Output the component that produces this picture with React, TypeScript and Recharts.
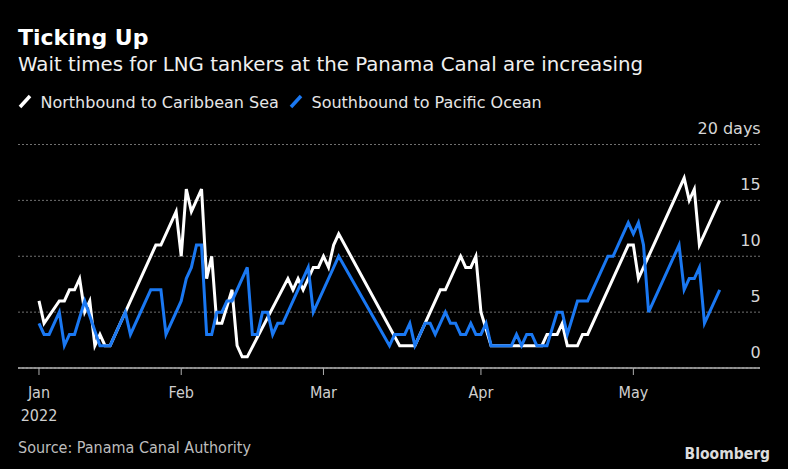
import React from 'react';
import { LineChart, Line, XAxis, YAxis, CartesianGrid } from 'recharts';

// days counted from Jan 1 2022 (Jan 1 = 0)
const northDays = [3, 4, 7, 8, 9, 10, 11, 12, 13, 14, 15, 16, 17, 20, 26, 27, 30, 31, 32, 33, 35, 36, 37, 38, 39, 41, 42, 43, 44, 52, 53, 54, 55, 57, 58, 59, 60, 61, 62, 74, 77, 82, 83, 86, 87, 88, 89, 90, 92, 102, 103, 105, 106, 107, 109, 110, 111, 119, 120, 121, 122, 130, 131, 132, 133, 137];
const northWait = [6, 4, 6, 6, 7, 7, 8, 5, 6, 2, 3, 2, 2, 5, 11, 11, 14, 10, 16, 14, 16, 8, 10, 4, 4, 7, 2, 1, 1, 8, 7, 8, 7, 9, 9, 10, 9, 11, 12, 2, 2, 7, 7, 10, 9, 9, 10, 5, 2, 2, 3, 3, 4, 2, 2, 3, 3, 11, 11, 8, 9, 17, 15, 16, 11, 15];

const southDays = [3, 4, 5, 7, 8, 9, 10, 12, 15, 17, 20, 21, 25, 27, 28, 31, 32, 33, 34, 35, 36, 37, 38, 39, 40, 41, 44, 45, 46, 47, 48, 49, 50, 51, 56, 57, 62, 72, 73, 75, 76, 77, 79, 80, 81, 83, 84, 85, 86, 87, 88, 89, 90, 91, 92, 96, 97, 98, 99, 100, 101, 103, 105, 106, 107, 109, 111, 115, 116, 119, 120, 121, 122, 123, 129, 130, 131, 132, 133, 134, 137];
const southWait = [4, 3, 3, 5, 2, 3, 3, 6, 2, 2, 5, 3, 7, 7, 3, 6, 8, 9, 11, 11, 3, 3, 5, 5, 6, 6, 9, 3, 3, 5, 5, 3, 4, 4, 9, 5, 10, 2, 3, 3, 4, 2, 4, 4, 3, 5, 4, 4, 3, 3, 4, 3, 3, 4, 2, 2, 3, 2, 3, 3, 2, 2, 5, 5, 3, 6, 6, 10, 10, 13, 12, 13, 11, 5, 11, 7, 8, 8, 9, 4, 7];

const monthTicks = [3, 31, 59, 90, 120];
const monthLabels = ['Jan', 'Feb', 'Mar', 'Apr', 'May'];
const yearLabel = '2022';
const valueTicks = [0, 5, 10, 15, 20];

const northData = northDays.map((day, i) => ({ day, wait: northWait[i] }));
const southData = southDays.map((day, i) => ({ day, wait: southWait[i] }));

const WHITE = '#ffffff';
const BLUE = '#1a78f2';
const FONT = "'DejaVu Sans', sans-serif";
const COND = "'DejaVu Sans Condensed', 'DejaVu Sans', sans-serif";

const MonthTick = (props: any) => {
  const { x, y, payload } = props;
  const i = monthTicks.indexOf(payload.value);
  return (
    <g>
      <text x={x} y={y + 21} textAnchor="middle" fill="#cfcfcf" fontSize={16} fontFamily={COND} style={{ fontStretch: 'condensed' }}>
        {monthLabels[i]}
      </text>
      {i === 0 && (
        <text x={x} y={y + 44} textAnchor="middle" fill="#cfcfcf" fontSize={16} fontFamily={COND} style={{ fontStretch: 'condensed' }}>
          {yearLabel}
        </text>
      )}
    </g>
  );
};

const ValueTick = (props: any) => {
  const { x, y, payload } = props;
  const label = payload.value === 20 ? '20 days' : String(payload.value);
  return (
    <text x={x + 0.7} y={y - 10.5} textAnchor="end" fill="#d6d6d6" fontSize={16} fontFamily={FONT}>
      {label}
    </text>
  );
};

export default function App() {
  return (
    <div style={{ position: 'absolute', left: 0, top: 0, width: 788, height: 469, background: '#000' }}>
      <LineChart width={788} height={469} margin={{ top: 144.5, right: 0, bottom: 0, left: 18 }}>
        <CartesianGrid vertical={false} stroke="#707070" strokeDasharray="2 2" />
        <XAxis
          type="number"
          dataKey="day"
          domain={[-1.13, 144.93]}
          ticks={monthTicks}
          height={101}
          tickSize={7}
          axisLine={{ stroke: '#b0b0b0', strokeWidth: 1.5 }}
          tickLine={{ stroke: '#b0b0b0' }}
          tick={<MonthTick />}
          interval={0}
        />
        <YAxis
          orientation="right"
          type="number"
          domain={[0, 20]}
          ticks={valueTicks}
          width={28}
          axisLine={false}
          tickLine={false}
          tickSize={0}
          tickMargin={0}
          tick={<ValueTick />}
          interval={0}
        />
        <Line data={northData} dataKey="wait" type="linear" stroke={WHITE} strokeWidth={3} dot={false} isAnimationActive={false} />
        <Line data={southData} dataKey="wait" type="linear" stroke={BLUE} strokeWidth={3} dot={false} isAnimationActive={false} />
      </LineChart>
      <svg width={788} height={469} style={{ position: 'absolute', left: 0, top: 0, pointerEvents: 'none' }}>
        <text x={18} y={45} fill="#ffffff" fontSize={22} fontWeight="bold" fontFamily={FONT}>Ticking Up</text>
        <text x={18} y={71} fill="#f0f0f0" fontSize={19.8} fontFamily={FONT}>Wait times for LNG tankers at the Panama Canal are increasing</text>
        <line x1={20} y1={107} x2={30} y2={96} stroke={WHITE} strokeWidth={3.5} />
        <text x={40.5} y={108} fill="#e6e6e6" fontSize={16} fontFamily={FONT}>Northbound to Caribbean Sea</text>
        <line x1={291} y1={107} x2={301} y2={96} stroke={BLUE} strokeWidth={3.5} />
        <text x={311.5} y={108} fill="#e6e6e6" fontSize={16} fontFamily={FONT}>Southbound to Pacific Ocean</text>
        <text x={18} y={453} fill="#bdbdbd" fontSize={16} fontFamily={COND} style={{ fontStretch: 'condensed' }}>Source: Panama Canal Authority</text>
        <text x={770} y={459} textAnchor="end" fill="#dcdcdc" fontSize={15.5} fontWeight="bold" fontFamily={COND} style={{ fontStretch: 'condensed' }}>Bloomberg</text>
      </svg>
    </div>
  );
}
